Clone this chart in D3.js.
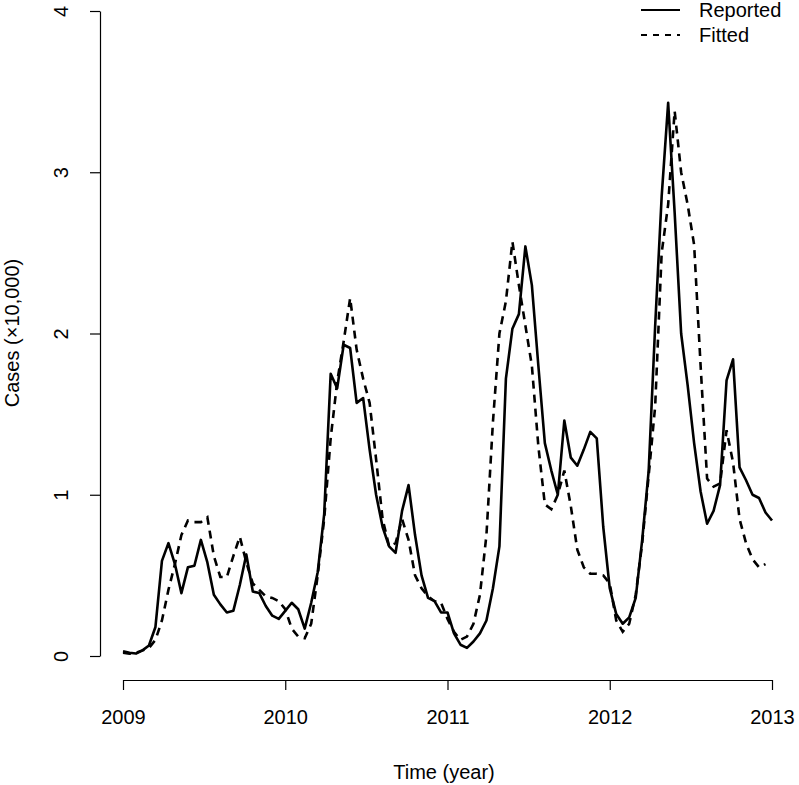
<!DOCTYPE html>
<html>
<head>
<meta charset="utf-8">
<script src="https://cdn.jsdelivr.net/npm/d3@7"></script>
<style>
body { margin: 0; background: #fff; }
text { font-family: "Liberation Sans", Arial, Helvetica, sans-serif; fill: #000; }
</style>
</head>
<body>
<div id="chart"></div>
<script>
var width = 799,
height = 785;

// time axis: first point at 2009, 25 points per year
var startYear = 2009,
perYear = 25;

var yearTicks = [2009, 2010, 2011, 2012, 2013];
var caseTicks = [0, 1, 2, 3, 4];

// cases in units of 10,000
var reported = [0.03, 0.02, 0.015, 0.035, 0.065, 0.18, 0.59, 0.70, 0.57, 0.39,
  0.55, 0.56, 0.72, 0.58, 0.38, 0.32, 0.27, 0.28, 0.44, 0.63,
  0.40, 0.39, 0.31, 0.25, 0.23, 0.28, 0.33, 0.29, 0.17, 0.33,
  0.52, 0.88, 1.75, 1.66, 1.93, 1.91, 1.57, 1.60, 1.28, 1.00,
  0.80, 0.68, 0.64, 0.90, 1.06, 0.75, 0.50, 0.36, 0.34, 0.27,
  0.27, 0.14, 0.07, 0.05, 0.09, 0.14, 0.22, 0.42, 0.68, 1.72,
  2.03, 2.12, 2.54, 2.30, 1.80, 1.32, 1.15, 1.00, 1.46, 1.23,
  1.18, 1.28, 1.39, 1.35, 0.80, 0.42, 0.26, 0.20, 0.24, 0.36,
  0.72, 1.15, 2.05, 2.85, 3.43, 2.75, 2.00, 1.68, 1.32, 1.02,
  0.82, 0.90, 1.06, 1.71, 1.84, 1.17, 1.09, 1.00, 0.98, 0.89,
  0.84];

var fitted = [0.02, 0.015, 0.02, 0.035, 0.05, 0.10, 0.22, 0.41, 0.57, 0.75,
  0.84, 0.83, 0.83, 0.86, 0.62, 0.49, 0.49, 0.62, 0.74, 0.58,
  0.45, 0.41, 0.37, 0.36, 0.34, 0.29, 0.17, 0.12, 0.11, 0.20,
  0.50, 0.85, 1.35, 1.70, 1.95, 2.22, 1.90, 1.72, 1.57, 1.22,
  0.85, 0.68, 0.70, 0.85, 0.72, 0.50, 0.42, 0.37, 0.34, 0.33,
  0.23, 0.15, 0.10, 0.12, 0.20, 0.38, 0.75, 1.45, 2.00, 2.20,
  2.57, 2.30, 2.05, 1.80, 1.30, 0.94, 0.91, 1.00, 1.15, 0.93,
  0.66, 0.55, 0.51, 0.51, 0.50, 0.45, 0.22, 0.15, 0.20, 0.38,
  0.70, 1.12, 1.55, 2.50, 2.80, 3.38, 3.00, 2.80, 2.55, 1.80,
  1.10, 1.05, 1.07, 1.40, 1.20, 0.85, 0.70, 0.60, 0.55, 0.57];

var legendNames = ["Reported", "Fitted"];

var x = d3.scaleLinear().domain([2009, 2013]).range([123, 772]);
var y = d3.scaleLinear().domain([0, 4]).range([656, 11]);

var svg = d3.select("#chart").append("svg")
  .attr("width", width)
  .attr("height", height);

var line = d3.line()
  .x(function(d, i) { return x(startYear + i / perYear); })
  .y(function(d) { return y(d); });

svg.append("path")
  .datum(fitted)
  .attr("fill", "none")
  .attr("stroke", "#000")
  .attr("stroke-width", 2.6)
  .attr("stroke-dasharray", "8,6")
  .attr("d", line);

svg.append("path")
  .datum(reported)
  .attr("fill", "none")
  .attr("stroke", "#000")
  .attr("stroke-width", 2.6)
  .attr("stroke-linejoin", "round")
  .attr("d", line);

// x axis
var xAxis = svg.append("g")
  .attr("transform", "translate(0,680)")
  .call(d3.axisBottom(x).tickValues(yearTicks).tickFormat(d3.format("d"))
    .tickSize(10).tickSizeOuter(0).tickPadding(20));
xAxis.select(".domain").attr("stroke", "#000").attr("stroke-width", 1.2);
xAxis.selectAll(".tick line").attr("stroke", "#000").attr("stroke-width", 1.2);
xAxis.selectAll("text").style("font-size", "20px").attr("font-family", null);

// y axis
var yAxis = svg.append("g")
  .attr("transform", "translate(100,0)")
  .call(d3.axisLeft(y).tickValues(caseTicks).tickFormat(d3.format("d"))
    .tickSize(10).tickSizeOuter(0));
yAxis.select(".domain").attr("stroke", "#000").attr("stroke-width", 1.2);
yAxis.selectAll(".tick line").attr("stroke", "#000").attr("stroke-width", 1.2);
yAxis.selectAll("text")
  .attr("x", null).attr("dy", null)
  .attr("transform", "translate(-39,0) rotate(-90)")
  .attr("text-anchor", "middle")
  .attr("dominant-baseline", "central")
  .style("font-size", "20px").attr("font-family", null);

svg.append("text")
  .attr("x", 444)
  .attr("y", 779)
  .attr("text-anchor", "middle")
  .style("font-size", "20px")
  .text("Time (year)");

svg.append("text")
  .attr("transform", "translate(19,333) rotate(-90)")
  .attr("text-anchor", "middle")
  .style("font-size", "20px")
  .text("Cases (×10,000)");

// legend
var legend = svg.selectAll("g.legend")
  .data(legendNames)
  .enter().append("g")
  .attr("class", "legend")
  .attr("transform", function(d, i) { return "translate(641," + (10 + i * 25) + ")"; });

legend.append("line")
  .attr("x1", 0).attr("x2", 39)
  .attr("stroke", "#000")
  .attr("stroke-width", 2)
  .attr("stroke-dasharray", function(d, i) { return i == 0 ? null : "6,6"; });

legend.append("text")
  .attr("x", 58)
  .attr("dy", "0.35em")
  .style("font-size", "20px")
  .text(function(d) { return d; });
</script>
</body>
</html>
